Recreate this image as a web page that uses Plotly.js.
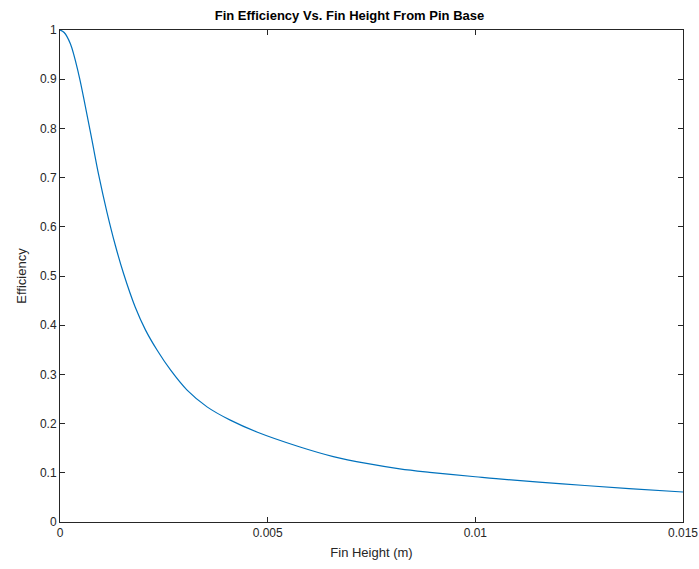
<!DOCTYPE html>
<html>
<head>
<meta charset="utf-8">
<script src="https://cdn.plot.ly/plotly-3.0.1.min.js"></script>
<style>html,body{margin:0;padding:0;background:#fff;}#chart{width:699px;height:569px;}</style>
</head>
<body>
<div id="chart"></div>
<script>
// Fin height (m)
const finHeight = [0, 0.0001, 0.00025, 0.00045, 0.00061, 0.00077, 0.00093, 0.00113, 0.00133, 0.00153,
  0.00181, 0.00206, 0.00234, 0.00266, 0.00306, 0.00354, 0.0041, 0.00474, 0.00576, 0.00658,
  0.00738, 0.00818, 0.0089, 0.01, 0.0105, 0.0121, 0.0137, 0.015];
// Efficiency
const efficiency = [1.0, 0.995, 0.972, 0.910, 0.845, 0.776, 0.706, 0.630, 0.563, 0.505,
  0.437, 0.390, 0.349, 0.309, 0.268, 0.234, 0.207, 0.183, 0.153, 0.133,
  0.119, 0.108, 0.101, 0.092, 0.088, 0.0775, 0.068, 0.061];
const xTicks = [0, 0.005, 0.01, 0.015];
const xTickText = ['0', '0.005', '0.01', '0.015'];
const yTicks = [0, 0.1, 0.2, 0.3, 0.4, 0.5, 0.6, 0.7, 0.8, 0.9, 1];
const yTickText = ['0', '0.1', '0.2', '0.3', '0.4', '0.5', '0.6', '0.7', '0.8', '0.9', '1'];

const axisColor = '#262626';
const font = 'Liberation Sans, Arial, Helvetica, sans-serif';

const trace = {
  x: finHeight, y: efficiency, type: 'scatter', mode: 'lines',
  line: {color: '#0072BD', width: 1.2, shape: 'spline', smoothing: 1},
  hoverinfo: 'none'
};

const axisCommon = {
  showline: true, linecolor: axisColor, linewidth: 1, mirror: 'ticks',
  ticks: 'inside', ticklen: 5, tickcolor: axisColor, tickwidth: 1,
  showgrid: false, zeroline: false, automargin: false,
  tickfont: {family: font, size: 12, color: axisColor}
};

const layout = {
  width: 699, height: 569,
  margin: {l: 60, r: 16, t: 30, b: 47},
  paper_bgcolor: '#fff', plot_bgcolor: '#fff',
  showlegend: false,
  title: {
    text: '<b>Fin Efficiency Vs. Fin Height From Pin Base</b>',
    font: {family: font, size: 13, color: '#000'},
    x: 0.5, xref: 'container', xanchor: 'center',
    y: 1 - 15/569, yref: 'container', yanchor: 'middle'
  },
  xaxis: Object.assign({}, axisCommon, {
    range: [0, 0.015], tickvals: xTicks, ticktext: xTickText,
    title: {text: 'Fin Height (m)', font: {family: font, size: 13, color: axisColor}, standoff: 8}
  }),
  yaxis: Object.assign({}, axisCommon, {
    range: [0, 1], tickvals: yTicks, ticktext: yTickText,
    title: {text: 'Efficiency', font: {family: font, size: 13, color: axisColor}, standoff: 10}
  })
};

Plotly.newPlot('chart', [trace], layout, {staticPlot: true, displayModeBar: false});
</script>
</body>
</html>
